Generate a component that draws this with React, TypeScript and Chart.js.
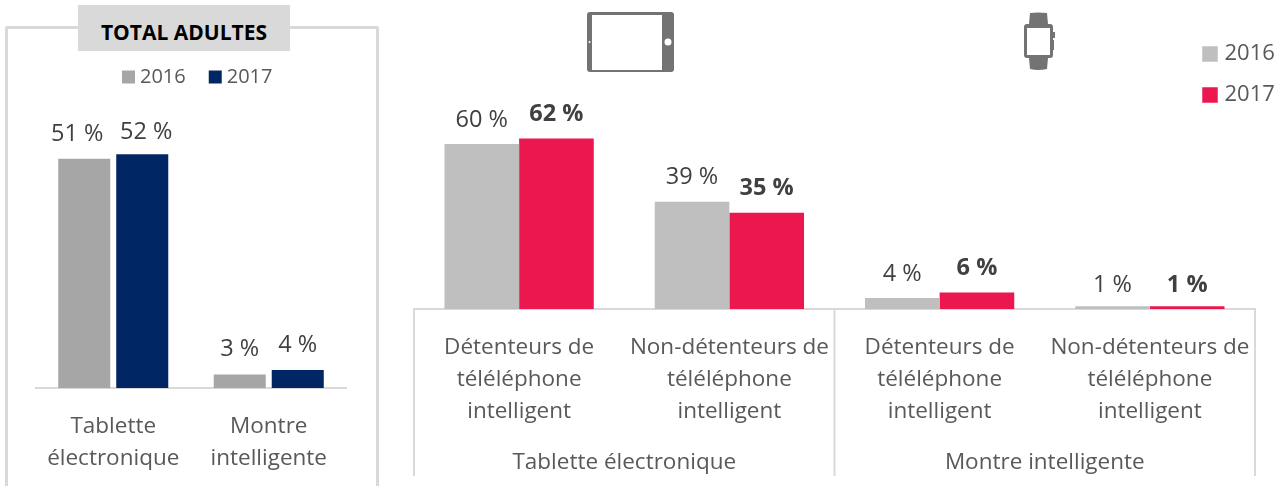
import React, { useEffect, useRef } from "react";
import { Chart, registerables } from "chart.js";

Chart.register(...registerables);

const FONT = '"Open Sans", "Noto Sans", sans-serif';
const TEXT = "#595959";
const VALUE_TEXT = "#404040";
const LINE = "#d9d9d9";

const seriesLabels = ["2016", "2017"];

const totalCategories = ["Tablette|électronique", "Montre|intelligente"];
const total2016 = [51, 3];
const total2017 = [52, 4];

const ownerCategories = [
  "Détenteurs de|téléléphone|intelligent",
  "Non-détenteurs de|téléléphone|intelligent",
  "Détenteurs de|téléléphone|intelligent",
  "Non-détenteurs de|téléléphone|intelligent",
];
const owner2016 = [60, 39, 4, 1];
const owner2017 = [62, 35, 6, 1];
const deviceGroups = ["Tablette électronique", "Montre intelligente"];

const pct = (v: number) => `${v} %`;

// nudges for individual value labels, as [dataset, index, dx, dy]
const valueLabels = (size: number, boldSecond: boolean, lift: number, nudges: number[][] = []) => ({
  id: "valueLabels",
  afterDatasetsDraw(chart: any) {
    const { ctx } = chart;
    chart.data.datasets.forEach((ds: any, di: number) => {
      chart.getDatasetMeta(di).data.forEach((bar: any, i: number) => {
        const bold = boldSecond && di === 1;
        const n = nudges.find((m) => m[0] === di && m[1] === i);
        ctx.save();
        ctx.font = `${bold ? 700 : 400} ${size}px ${FONT}`;
        ctx.fillStyle = VALUE_TEXT;
        ctx.textAlign = "center";
        ctx.textBaseline = "middle";
        ctx.fillText(pct(ds.data[i]), bar.x + (n ? n[2] : 0), bar.y - lift + (n ? n[3] : 0));
        ctx.restore();
      });
    });
  },
});

const moveLegend = (left: number, top: number) => ({
  id: "moveLegend",
  beforeDraw(chart: any) {
    const l = chart.legend;
    const w = l.right - l.left;
    const h = l.bottom - l.top;
    l.left = left;
    l.right = left + w;
    l.top = top;
    l.bottom = top + h;
  },
});

const groupAxis = {
  id: "groupAxis",
  afterDraw(chart: any) {
    const { ctx, scales } = chart;
    const x = scales.x;
    const axisY = chart.chartArea.bottom;
    const step = x.getPixelForValue(1) - x.getPixelForValue(0);
    const edges = [0, 2, 4].map((i) => x.getPixelForValue(0) + (i - 0.5) * step);
    ctx.save();
    ctx.strokeStyle = LINE;
    ctx.lineWidth = 2;
    edges.forEach((ex) => {
      ctx.beginPath();
      ctx.moveTo(ex, axisY);
      ctx.lineTo(ex, axisY + 167);
      ctx.stroke();
    });
    ctx.font = `400 22.5px ${FONT}`;
    ctx.fillStyle = TEXT;
    ctx.textAlign = "center";
    ctx.textBaseline = "middle";
    deviceGroups.forEach((g, i) => {
      ctx.fillText(g, x.getPixelForValue(i * 2 + 0.5), axisY + 154);
    });
    ctx.restore();
  },
};

function makeChart(
  canvas: HTMLCanvasElement,
  categories: string[],
  s2016: number[],
  s2017: number[],
  colors: string[],
  o: any
) {
  return new Chart(canvas, {
    type: "bar",
    data: {
      labels: categories.map((c) => c.split("|")),
      datasets: [
        { label: seriesLabels[0], data: s2016, backgroundColor: colors[0], categoryPercentage: o.cat, barPercentage: o.bar },
        { label: seriesLabels[1], data: s2017, backgroundColor: colors[1], categoryPercentage: o.cat, barPercentage: o.bar },
      ],
    },
    options: {
      animation: false,
      responsive: false,
      layout: { padding: o.padding },
      plugins: {
        title: { display: false },
        tooltip: { enabled: false },
        legend: o.legend,
      },
      scales: {
        x: {
          grid: { display: false, drawTicks: false },
          border: { color: LINE, width: 2 },
          ticks: {
            color: TEXT,
            font: { family: FONT, size: 22.5, lineHeight: 1.42 },
            padding: o.tickPad,
            maxRotation: 0,
            autoSkip: false,
          },
          afterFit(scale: any) {
            scale.height = o.axisHeight;
          },
        },
        y: { display: false, min: 0, max: o.max },
      },
    },
    plugins: o.plugins,
  } as any);
}

const layer: React.CSSProperties = { position: "absolute", left: 0, top: 0 };

export default function App() {
  const leftRef = useRef<HTMLCanvasElement>(null);
  const rightRef = useRef<HTMLCanvasElement>(null);

  useEffect(() => {
    const left = makeChart(leftRef.current!, totalCategories, total2016, total2017, ["#a6a6a6", "#002663"], {
      cat: 0.746,
      bar: 0.897,
      max: 60,
      tickPad: 23,
      axisHeight: 98,
      padding: { left: 35.5, right: 939.5, top: 60.4, bottom: 0 },
      legend: {
        display: true,
        position: "top",
        align: "start",
        labels: {
          color: TEXT,
          font: { family: FONT, size: 20 },
          usePointStyle: true,
          pointStyle: "rect",
          boxWidth: 3,
          boxHeight: 13,
          padding: 28,
        },
      },
      plugins: [valueLabels(23.5, false, 25, [[0, 0, -7, 0], [1, 0, 4, 3]]), moveLegend(99, 39)],
    });
    const right = makeChart(rightRef.current!, ownerCategories, owner2016, owner2017, ["#bfbfbf", "#ed174f"], {
      cat: 0.71,
      bar: 1,
      max: 70,
      tickPad: 23,
      axisHeight: 177,
      padding: { left: 414, right: 31, top: 116.5, bottom: 0 },
      legend: {
        display: true,
        position: "chartArea",
        align: "start",
        labels: {
          color: TEXT,
          font: { family: FONT, size: 22 },
          usePointStyle: true,
          pointStyle: "rect",
          boxWidth: 7,
          boxHeight: 15.5,
          padding: 19,
        },
      },
      plugins: [valueLabels(23.5, true, 24, [[0, 3, 0, 3], [1, 3, 0, 3]]), groupAxis, moveLegend(1187.5, 24)],
    });
    return () => {
      left.destroy();
      right.destroy();
    };
  }, []);

  return (
    <div style={{ position: "fixed", left: 0, top: 0, width: 1286, height: 486, overflow: "hidden", background: "#fff" }}>
      <div
        style={{
          position: "absolute",
          left: 5,
          top: 26,
          width: 367.5,
          height: 480,
          border: `3px solid ${LINE}`,
          borderRadius: 2,
        }}
      />
      <canvas ref={leftRef} width={1286} height={486} style={layer} />
      <canvas ref={rightRef} width={1286} height={486} style={layer} />
      <div
        style={{
          position: "absolute",
          left: 78,
          top: 5,
          width: 212,
          height: 46,
          background: LINE,
          color: "#000",
          font: `700 21px ${FONT}`,
          lineHeight: "54px",
          textAlign: "center",
        }}
      >
        TOTAL ADULTES
      </div>
      <svg style={layer} width={1286} height={486} fill="#737373">
        <path
          fillRule="evenodd"
          d="M590 12H671Q674 12 674 15V69Q674 72 671 72H590Q587 72 587 69V15Q587 12 590 12ZM592 15V70H662V15Z"
        />
        <circle cx={668} cy={42} r={3.5} fill="#fff" />
        <circle cx={589.5} cy={42} r={1} fill="#fff" />
        <path
          fillRule="evenodd"
          d="M1030 13Q1038 12 1047 13L1048 24H1050Q1053 24 1053 27V32H1055V38H1053V40H1054V50H1053V55Q1053 58 1050 58H1048L1047 69Q1038 71 1030 69L1029 58H1027Q1024 58 1024 55V27Q1024 24 1027 24H1029ZM1027 28V55H1050V28Z"
        />
      </svg>
    </div>
  );
}
